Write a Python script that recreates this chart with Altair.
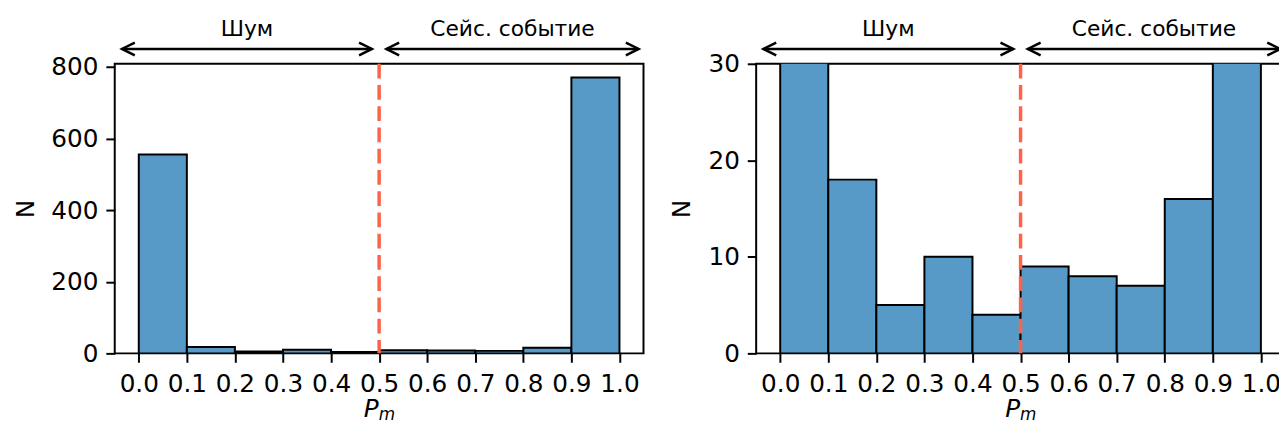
import altair as alt
import pandas as pd

# ---- data ----
bin_start = [0.0, 0.1, 0.2, 0.3, 0.4, 0.5, 0.6, 0.7, 0.8, 0.9]
bin_end = [0.1, 0.2, 0.3, 0.4, 0.5, 0.6, 0.7, 0.8, 0.9, 1.0]
counts = [555, 18, 5, 10, 4, 9, 8, 7, 16, 770]
x_ticks = [0.0, 0.1, 0.2, 0.3, 0.4, 0.5, 0.6, 0.7, 0.8, 0.9, 1.0]
left_y_ticks = [0, 200, 400, 600, 800]
right_y_ticks = [0, 10, 20, 30]
left_y_max = 808.5
right_y_max = 30
threshold = [0.5]
region_labels = ["Шум", "Сейс. событие"]
region_centers = [0.225, 0.7775]
arrow_from = [-0.035, 0.515]
arrow_to = [0.485, 1.04]
xlabel_parts = ["P", "m"]

FONT = "DejaVu Sans"
BLUE = "#5799c7"

hist_df = pd.DataFrame({"start": bin_start, "end": bin_end, "count": counts})
thr_df = pd.DataFrame({"x": threshold})
reg_df = pd.DataFrame({"label": region_labels, "center": region_centers,
                       "x0": arrow_from, "x1": arrow_to})
xl_df = pd.DataFrame({"P": [xlabel_parts[0]], "m": [xlabel_parts[1]]})

PLOT_W = 535
PLOT_H = 293


def panel(ymax, yticks, title_x):
    xs = alt.Scale(domain=[-0.05, 1.05], nice=False, zero=False)
    ys = alt.Scale(domain=[0, ymax], nice=False)
    xaxis = alt.Axis(values=x_ticks, format=".1f", title=None, grid=False,
                     labelOverlap=False, labelFlush=False, domain=False,
                     tickSize=9, tickWidth=2, tickColor="black",
                     labelFontSize=25, labelFont=FONT, labelColor="black",
                     labelPadding=10)
    yaxis = alt.Axis(values=yticks, title="N", grid=False, domain=False,
                     labelFlush=False, labelOverlap=False,
                     tickSize=9, tickWidth=2, tickColor="black",
                     labelFontSize=25, labelFont=FONT, labelColor="black",
                     labelPadding=8, titleFontSize=25, titleFont=FONT,
                     titleFontWeight="normal", titleColor="black",
                     titleBaseline="alphabetic", titleX=title_x)
    bars = alt.Chart(hist_df).mark_bar(
        color=BLUE, stroke="black", strokeWidth=2, clip=True, opacity=1
    ).encode(
        x=alt.X("start:Q", scale=xs, axis=xaxis),
        x2="end:Q",
        y=alt.Y("count:Q", scale=ys, axis=yaxis),
        y2=alt.datum(0),
    )
    vline = alt.Chart(thr_df).mark_rule(
        color="tomato", strokeDash=[15, 6.5], strokeWidth=3.5
    ).encode(x="x:Q")
    shafts = alt.Chart(reg_df).mark_rule(color="black", strokeWidth=2.5).encode(
        x="x0:Q", x2="x1:Q", y=alt.value(-15)
    )
    head_l = alt.Chart(reg_df).mark_point(
        shape="M1,-0.5L0,0L1,0.5", filled=False, stroke="black",
        strokeWidth=2.5, size=676, opacity=1
    ).encode(x="x0:Q", y=alt.value(-15))
    head_r = alt.Chart(reg_df).mark_point(
        shape="M-1,-0.5L0,0L-1,0.5", filled=False, stroke="black",
        strokeWidth=2.5, size=676, opacity=1
    ).encode(x="x1:Q", y=alt.value(-15))
    labels = alt.Chart(reg_df).mark_text(
        font=FONT, fontSize=22, baseline="alphabetic", align="center", color="black"
    ).encode(x="center:Q", y=alt.value(-28), text="label:N")
    p_txt = alt.Chart(xl_df).mark_text(
        font=FONT, fontSize=25, fontStyle="italic", baseline="alphabetic",
        align="right", color="black"
    ).encode(x=alt.value(267), y=alt.value(357), text="P:N")
    m_txt = alt.Chart(xl_df).mark_text(
        font=FONT, fontSize=17, fontStyle="italic", baseline="alphabetic",
        align="left", color="black"
    ).encode(x=alt.value(267), y=alt.value(360), text="m:N")
    return alt.layer(bars, vline, shafts, head_l, head_r, labels, p_txt, m_txt).properties(
        width=PLOT_W, height=PLOT_H
    )


left = panel(left_y_max, left_y_ticks, -82)
right = panel(right_y_max, right_y_ticks, -67)

chart = alt.hconcat(left, right, spacing=24).properties(
    padding={"left": 5, "top": 7, "right": -8, "bottom": -3}
).configure(background="white").configure_view(stroke="black", strokeWidth=2)

chart.save("out.html", embed_options={"renderer": "svg", "actions": False})
